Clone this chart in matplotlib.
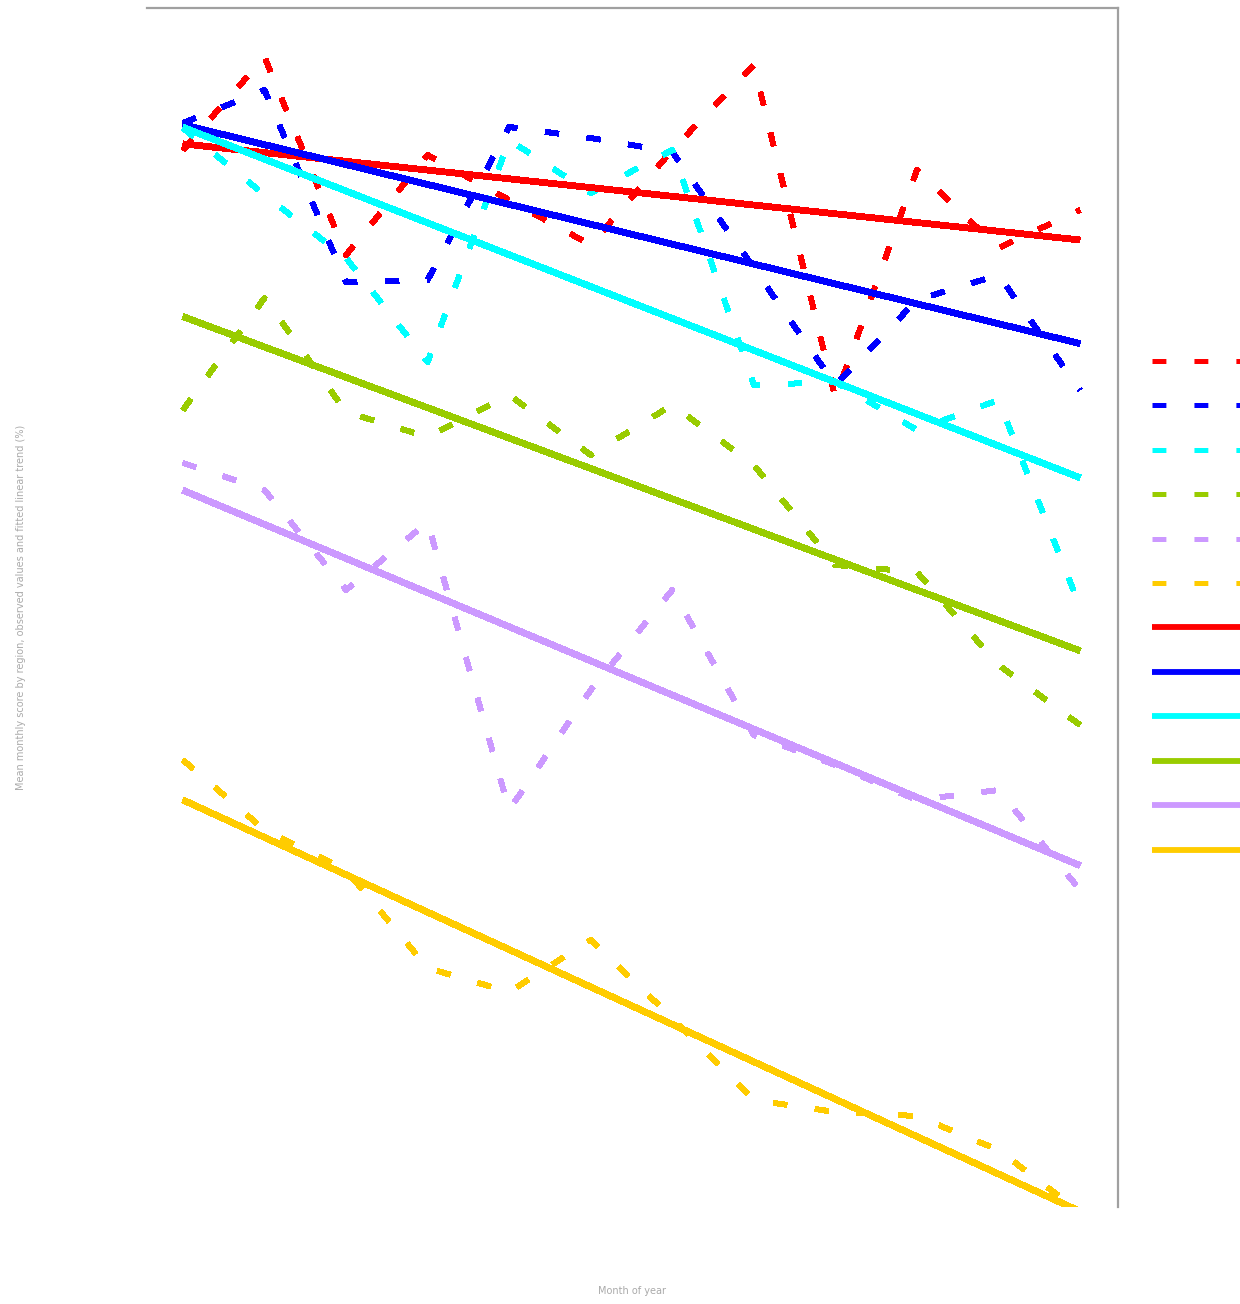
import numpy as np
import matplotlib
matplotlib.use("Agg")
import matplotlib.pyplot as plt

# Monthly observations for six regions
months = [1, 2, 3, 4, 5, 6, 7, 8, 9, 10, 11, 12]
region_names = ["Region A", "Region B", "Region C", "Region D", "Region E", "Region F"]
region_colors = ["#ff0000", "#0000ff", "#00ffff", "#99cc00", "#cc99ff", "#ffcc00"]

region_a = [110.7, 120.0, 100.2, 110.2, 105.7, 101.2, 110.7, 119.2, 85.9, 108.7, 100.9, 104.7]
region_b = [113.4, 116.7, 97.5, 97.7, 113.0, 111.9, 110.5, 98.9, 87.2, 95.7, 98.2, 86.7]
region_c = [112.9, 106.2, 99.9, 89.5, 111.7, 106.4, 110.7, 87.2, 87.5, 82.7, 85.7, 65.0]
region_d = [84.7, 95.9, 84.5, 82.0, 86.2, 80.2, 85.2, 79.2, 69.2, 68.5, 59.2, 53.2]
region_e = [79.4, 76.7, 66.7, 73.5, 44.7, 56.7, 66.7, 52.2, 49.2, 45.7, 46.7, 36.7]
region_f = [49.7, 42.7, 38.7, 28.9, 26.5, 31.7, 23.9, 15.7, 14.5, 14.1, 10.7, 4.5]

series = [region_a, region_b, region_c, region_d, region_e, region_f]

plt.rcParams["lines.scale_dashes"] = False

fig = plt.figure(figsize=(12.4, 13.04), dpi=100)
ax = fig.add_axes([147 / 1240, 1 - 1207 / 1304, 971 / 1240, 1199 / 1304])

x = np.array(months, dtype=float)
dash_lw = 3.6
solid_lw = 4.2
# dash pattern in points: ~14 px on, ~28 px off at 100 dpi
dash_pattern = (0, (10.0, 20.2))

handles = []
for name, color, values in zip(region_names, region_colors, series):
    (h,) = ax.plot(x, values, color=color, lw=dash_lw, ls=dash_pattern,
                   antialiased=False, label=f"{name} (observed)")
    handles.append(h)

trend_handles = []
for name, color, values in zip(region_names, region_colors, series):
    slope, intercept = np.polyfit(x, values, 1)
    (h,) = ax.plot(x, slope * x + intercept, color=color, lw=solid_lw,
                   antialiased=False, solid_capstyle="butt",
                   label=f"{name} (linear trend)")
    trend_handles.append(h)

ax.set_xlim(0.559, 12.466)
ax.set_ylim(5.0, 124.9)
ax.set_xticks([])
ax.set_yticks([])
for side in ("left", "bottom"):
    ax.spines[side].set_visible(False)
for side in ("top", "right"):
    ax.spines[side].set_color("#a0a0a0")
    ax.spines[side].set_linewidth(1.6)

ax.set_xlabel("Month of year", fontsize=7, color="#aaaaaa", labelpad=57)
ax.set_ylabel("Mean monthly score by region, observed values and fitted linear trend (%)",
              fontsize=7, color="#aaaaaa", labelpad=87)

fig.legend(handles + trend_handles, [h.get_label() for h in handles + trend_handles],
           loc="upper left", bbox_to_anchor=(1152 / 1240, 0.7297),
           frameon=False, fontsize=14, borderpad=0, borderaxespad=0,
           handlelength=8, labelspacing=1.31, handletextpad=0.8)

fig.savefig("out.png", dpi=100)
